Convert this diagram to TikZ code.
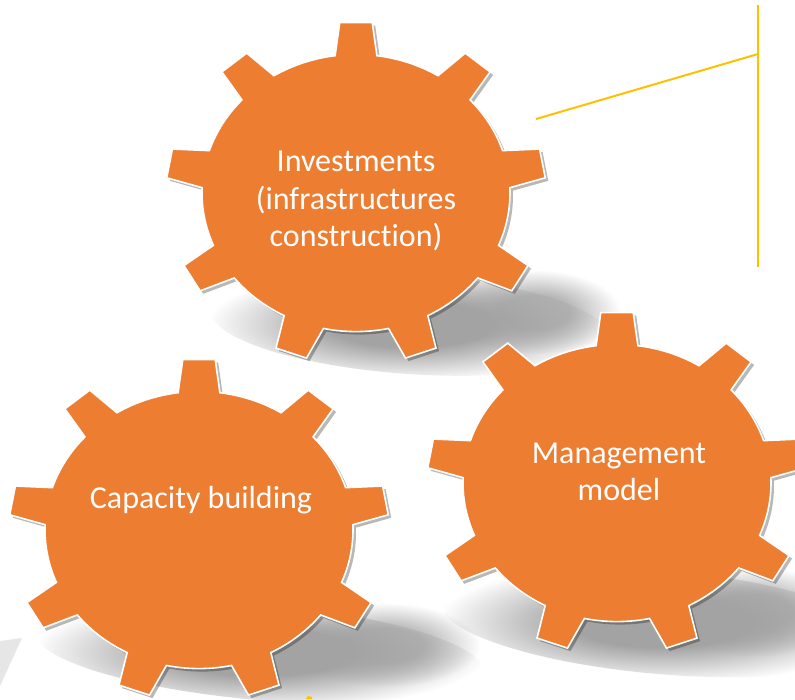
\documentclass[tikz,border=0pt]{standalone}
\usepackage{fontspec}
\usepackage{tikz}
\usetikzlibrary{shadows,fadings}
\newfontfamily\gearfont[Ligatures=CommonOff]{Carlito}
\definecolor{GearOrange}{HTML}{ED7D31}
\definecolor{CallYellow}{HTML}{FFC000}
\definecolor{GroundGray}{HTML}{E6E6E6}

% very soft blob for the ground shadows
\pgfdeclareradialshading{softblobshade}{\pgfpointorigin}{color(0bp)=(white);
  color(10bp)=(white); color(25bp)=(black); color(50bp)=(black)}
\pgfdeclarefading{softblob}{\pgfuseshading{softblobshade}}

% one gear outline: nine tapered teeth round an elliptic body
\newcommand\gearoutline{%
  (270-7.8:154) \foreach \a in {270,310,...,590} {
    -- (\a-7.8:154) -- (\a-4.9:190) -- (\a+4.9:190) -- (\a+7.8:154)
    arc[start angle=\a+7.8,end angle=\a+32.2,radius=154] } -- cycle}

\begin{document}
\begin{tikzpicture}[
  x=1pt,y=-1pt,
  gear/.style={fill=GearOrange,draw=white,line width=1.6pt,
    drop shadow={shadow xshift=3pt,shadow yshift=-3pt,opacity=.28,fill=black}},
  gearlabel/.style={text=white,align=center,inner sep=0pt,
    font=\gearfont\fontsize{32}{37.5}\selectfont},
  ground/.style={fill=black!36,path fading=softblob},
  callout/.style={draw=CallYellow,line width=2pt}
]
\useasboundingbox (0,0) rectangle (795,699);
\fill[white] (0,0) rectangle (795,699);

% soft ground shadows cast behind each gear
\fill[ground,rotate around={-4:(410,324)}] (410,324) ellipse[x radius=200,y radius=50];
\fill[ground,opacity=.8] (535,312) ellipse[x radius=85,y radius=42];
\fill[ground,rotate around={-5:(260,652)}] (260,652) ellipse[x radius=225,y radius=48];
\fill[ground,opacity=.8] (385,645) ellipse[x radius=95,y radius=42];
\fill[ground,rotate around={-5:(660,622)}] (660,622) ellipse[x radius=220,y radius=52];
\fill[ground,opacity=.8] (755,612) ellipse[x radius=90,y radius=45];
\fill[GroundGray] (0,641) -- (22,638) -- (0,686) -- cycle;

% gear centres
\coordinate (gInvest) at (356,193);
\coordinate (gCapacity) at (199,530);
\coordinate (gManage) at (617,483);

\begin{scope}[shift={(gInvest)},yscale=0.9]
  \path[gear] \gearoutline;
\end{scope}
\begin{scope}[shift={(gCapacity)},yscale=0.9]
  \path[gear] \gearoutline;
\end{scope}
\begin{scope}[shift={(gManage)},yscale=0.9]
  \path[gear] \gearoutline;
\end{scope}

\node[gearlabel] (invest) at (356,201) {Investments\\(infrastructures\\construction)};
\node[gearlabel] (capacity) at (201,500) {Capacity building};
\node[gearlabel] (manage) at (619,472) {Management\\model};

% yellow callout bracket at the top right
\coordinate (callTop) at (758,5);
\coordinate (callBot) at (758,267);
\coordinate (callJoin) at (758,54);
\coordinate (callTip) at (536,119);
\draw[callout] (callTop) -- (callBot);
\draw[callout] (callTip) -- (callJoin);
\fill[CallYellow] (306,699) -- (308,696) -- (312,697) -- (312,699) -- cycle;

\end{tikzpicture}
\end{document}
